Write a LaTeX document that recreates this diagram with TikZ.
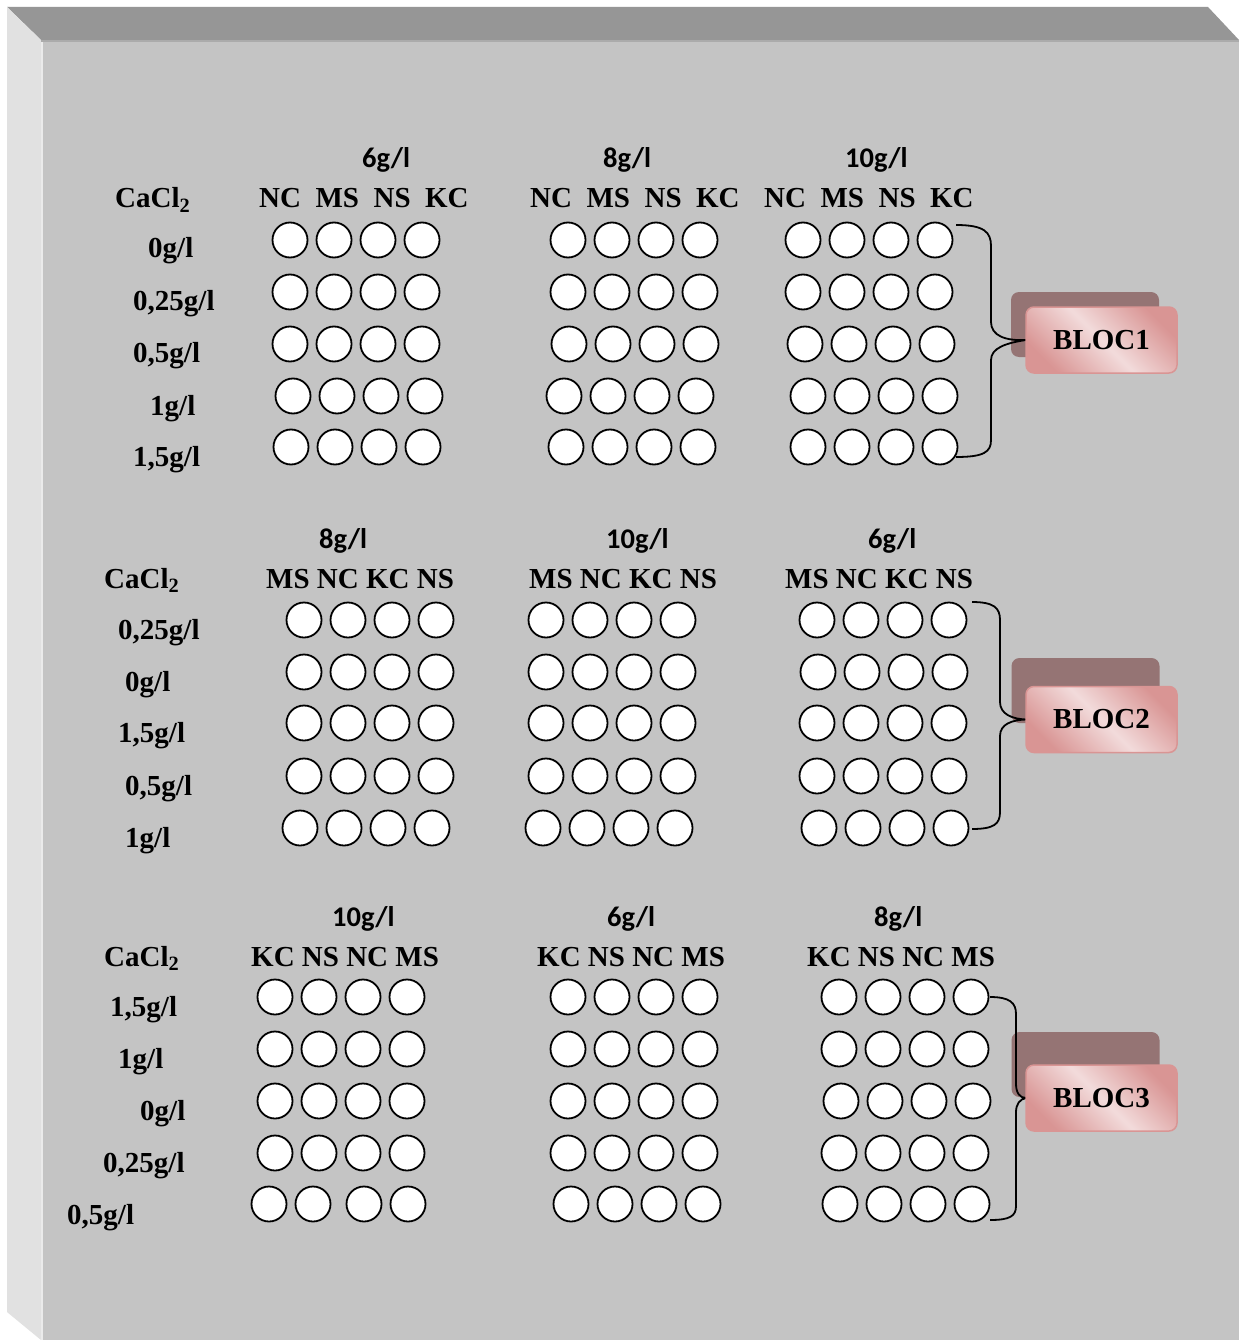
\documentclass[tikz,border=0pt]{standalone}
\usepackage{fontspec}
\setmainfont{Liberation Serif}
\newfontfamily\calibf{Carlito}
\definecolor{topband}{HTML}{969696}
\definecolor{leftband}{HTML}{E1E1E1}
\definecolor{face}{HTML}{C4C4C4}
\definecolor{faceline}{HTML}{ABABAB}
\definecolor{faceleft}{HTML}{EBEBEB}
\definecolor{shadowc}{HTML}{957474}
\definecolor{pinkd}{HTML}{D99594}
\definecolor{pinkl}{HTML}{F2DBDB}
\begin{document}
\begin{tikzpicture}[x=1pt,y=-1pt,
  well/.style={circle,draw=black,fill=white,line width=1.8pt,minimum size=35pt,inner sep=0pt},
  lbl/.style={font=\fontsize{29}{31}\selectfont\bfseries,anchor=base west,inner sep=0pt},
  hdr/.style={font=\fontsize{28.5}{30}\selectfont\calibf\bfseries,anchor=base west,inner sep=0pt},
  brace/.style={draw=black,line width=1.8pt},
  blocshadow/.style={fill=shadowc,rounded corners=8pt,minimum width=148pt,minimum height=65pt,inner sep=0pt},
  blocfront/.style={draw=pinkd,line width=1.5pt,rounded corners=8pt,minimum width=151pt,minimum height=66pt,inner sep=0pt,
    left color=pinkd,right color=pinkd,middle color=pinkl,shading angle=135,
    font=\fontsize{29}{31}\selectfont\bfseries}]
\useasboundingbox (0,0) rectangle (1239,1340);
\fill[white] (0,0) rectangle (1239,1340);
% bevelled panel
\fill[face] (41,40) rectangle (1239,1340);
\fill[topband] (7,7) -- (1208,7) -- (1239,40) -- (41,40) -- cycle;
\fill[leftband] (7,7) -- (41,40) -- (41,1340) -- (7,1312) -- cycle;
\fill[faceline] (41,40) rectangle (1239,42.5);
\fill[faceleft] (41,42.5) rectangle (43,1340);

% ---------- wells ----------
\foreach \nm/\x/\y in {
  a11/290/240, a12/290/292, a13/290/344, a14/293/396, a15/291/447,
  a21/568/240, a22/568/292, a23/569/344, a24/564/396, a25/566/447,
  a31/803/240, a32/803/292, a33/805/344, a34/808/396, a35/808/447,
  b11/304/620, b12/304/672, b13/304/723, b14/304/776, b15/300/828,
  b21/546/620, b22/546/672, b23/546/723, b24/546/776, b25/543/828,
  b31/817/620, b32/818/672, b33/817/723, b34/817/776, b35/819/828,
  c11/275/997, c12/275/1049, c13/275/1101, c14/275/1153,
  c21/568/997, c22/568/1049, c23/568/1101, c24/568/1153, c25/571/1204,
  c31/839/997, c32/839/1049, c33/841/1101, c34/839/1153, c35/840/1204}{
  \foreach \k in {1,...,4}
    \node[well] (\nm-\k) at ({\x+44*(\k-1)},\y) {};
}
\node[well] (c15-1) at (269,1204) {};
\node[well] (c15-2) at (313,1204) {};
\node[well] (c15-3) at (364,1204) {};
\node[well] (c15-4) at (408,1204) {};

% ---------- block 1 texts ----------
\node[hdr] (h11) at (362,168) {6g/l};
\node[hdr] (h12) at (603,168) {8g/l};
\node[hdr] (h13) at (845,168) {10g/l};
\node[lbl] (ca1) at (115,208) {CaCl\textsubscript{2}};
\node[lbl] (k11) at (259,208) {NC\ \ MS\ \ NS\ \ KC};
\node[lbl] (k12) at (530,208) {NC\ \ MS\ \ NS\ \ KC};
\node[lbl] (k13) at (764,208) {NC\ \ MS\ \ NS\ \ KC};
\node[lbl] (r11) at (148,258) {0g/l};
\node[lbl] (r12) at (133,310) {0,25g/l};
\node[lbl] (r13) at (133,362) {0,5g/l};
\node[lbl] (r14) at (150,415) {1g/l};
\node[lbl] (r15) at (133,466) {1,5g/l};

% ---------- block 2 texts ----------
\node[hdr] (h21) at (319,548) {8g/l};
\node[hdr] (h22) at (606,548) {10g/l};
\node[hdr] (h23) at (868,548) {6g/l};
\node[lbl] (ca2) at (104,588) {CaCl\textsubscript{2}};
\node[lbl] (k21) at (266,588) {MS NC KC NS};
\node[lbl] (k22) at (529,588) {MS NC KC NS};
\node[lbl] (k23) at (785,588) {MS NC KC NS};
\node[lbl] (r21) at (118,639) {0,25g/l};
\node[lbl] (r22) at (125,691) {0g/l};
\node[lbl] (r23) at (118,742) {1,5g/l};
\node[lbl] (r24) at (125,795) {0,5g/l};
\node[lbl] (r25) at (125,847) {1g/l};

% ---------- block 3 texts ----------
\node[hdr] (h31) at (332,926) {10g/l};
\node[hdr] (h32) at (607,926) {6g/l};
\node[hdr] (h33) at (874,926) {8g/l};
\node[lbl] (ca3) at (104,966) {CaCl\textsubscript{2}};
\node[lbl] (k31) at (251,966) {KC NS NC MS};
\node[lbl] (k32) at (537,966) {KC NS NC MS};
\node[lbl] (k33) at (807,966) {KC NS NC MS};
\node[lbl] (r31) at (110,1016) {1,5g/l};
\node[lbl] (r32) at (118,1068) {1g/l};
\node[lbl] (r33) at (140,1120) {0g/l};
\node[lbl] (r34) at (103,1172) {0,25g/l};
\node[lbl] (r35) at (67,1224) {0,5g/l};

% ---------- BLOC boxes with braces ----------
\node[blocshadow] (s1) at (1085,324.5) {};
\node[blocshadow] (s2) at (1085.5,690.5) {};
\node[blocshadow] (s3) at (1085.5,1064.5) {};

\coordinate (bloc1pos) at (1101.5,340);
\coordinate (bloc2pos) at (1101.5,719.5);
\coordinate (bloc3pos) at (1101.5,1098);

\coordinate (t1) at (956,225);
\coordinate (e1) at (956,457);
\coordinate (tip1) at (1026,340);
\draw[brace] (t1) .. controls (984,225) and (991,232) .. (991,246) -- (991,322)
  .. controls (991,336) and (1006,341) .. (tip1)
  .. controls (1006,343) and (991,348) .. (991,360) -- (991,440)
  .. controls (991,452) and (984,457) .. (e1);

\coordinate (t2) at (972,602);
\coordinate (e2) at (972,829);
\coordinate (tip2) at (1026,719.5);
\draw[brace] (t2) .. controls (994,602) and (1000,608) .. (1000,620) -- (1000,702)
  .. controls (1000,714) and (1012,719) .. (tip2)
  .. controls (1012,720) and (1000,724) .. (1000,736) -- (1000,812)
  .. controls (1000,824) and (994,829) .. (e2);

\coordinate (t3) at (990,997);
\coordinate (e3) at (990,1220);
\coordinate (tip3) at (1026,1098);
\draw[brace] (t3) .. controls (1010,997) and (1016,1003) .. (1016,1014) -- (1016,1084)
  .. controls (1016,1093) and (1020,1098) .. (tip3)
  .. controls (1020,1099) and (1016,1104) .. (1016,1112) -- (1016,1206)
  .. controls (1016,1216) and (1010,1220) .. (e3);

\node[blocfront] (bloc1) at (bloc1pos) {BLOC1\hspace{7pt}};
\node[blocfront] (bloc2) at (bloc2pos) {BLOC2\hspace{7pt}};
\node[blocfront] (bloc3) at (bloc3pos) {BLOC3\hspace{7pt}};
\end{tikzpicture}
\end{document}
